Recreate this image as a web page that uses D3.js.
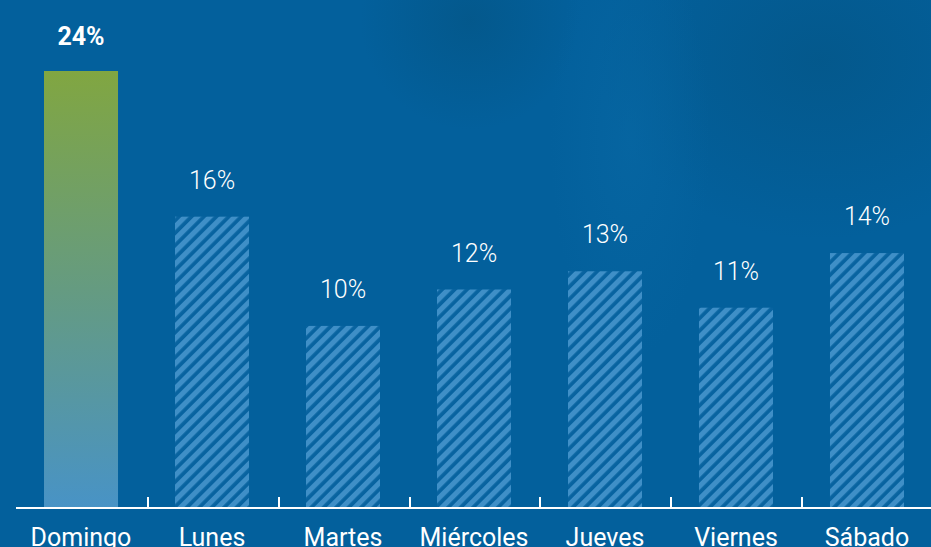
<!DOCTYPE html>
<html>
<head>
<meta charset="utf-8">
<script src="https://cdn.jsdelivr.net/npm/d3@7"></script>
<style>
html,body{margin:0;padding:0;background:#03609c;overflow:hidden;}
svg{display:block;}
</style>
</head>
<body>
<svg id="chart" width="931" height="547"></svg>
<script>
const days = ["Domingo","Lunes","Martes","Miércoles","Jueves","Viernes","Sábado"];
const values = [24,16,10,12,13,11,14];
const valueLabels = ["24%","16%","10%","12%","13%","11%","14%"];
const highlight = ["Domingo"];

const W = 931, H = 547;
const svg = d3.select("#chart");
const defs = svg.append("defs");

// background
const bg = defs.append("radialGradient").attr("id","bgDark").attr("cx","50%").attr("cy","50%").attr("r","50%");
bg.append("stop").attr("offset","0%").attr("stop-color","#04527f").attr("stop-opacity",0.55);
bg.append("stop").attr("offset","100%").attr("stop-color","#04527f").attr("stop-opacity",0);
const bgL = defs.append("radialGradient").attr("id","bgLight").attr("cx","50%").attr("cy","50%").attr("r","50%");
bgL.append("stop").attr("offset","0%").attr("stop-color","#0868a4").attr("stop-opacity",0.6);
bgL.append("stop").attr("offset","100%").attr("stop-color","#0868a4").attr("stop-opacity",0);

svg.append("rect").attr("width",W).attr("height",H).attr("fill","#03609c");
svg.append("ellipse").attr("cx",820).attr("cy",60).attr("rx",220).attr("ry",180).attr("fill","url(#bgDark)");
svg.append("ellipse").attr("cx",470).attr("cy",20).attr("rx",110).attr("ry",110).attr("fill","url(#bgDark)");
svg.append("ellipse").attr("cx",630).attr("cy",140).attr("rx",80).attr("ry",220).attr("fill","url(#bgLight)");

// gradient for highlighted bar
const g = defs.append("linearGradient").attr("id","hiGrad")
  .attr("gradientUnits","objectBoundingBox").attr("x1",0).attr("y1",0).attr("x2",0).attr("y2",1);
g.append("stop").attr("offset","0%").attr("stop-color","#81a641");
g.append("stop").attr("offset","50%").attr("stop-color","#659b81");
g.append("stop").attr("offset","100%").attr("stop-color","#4893c6");

// stripe pattern
const P = 8.8;
const pat = defs.append("pattern").attr("id","stripes")
  .attr("patternUnits","userSpaceOnUse").attr("width",P).attr("height",P)
  .attr("patternTransform","rotate(45)");
pat.append("rect").attr("width",P).attr("height",P).attr("fill","#0863a0");
pat.append("rect").attr("x",0).attr("width",P*0.58).attr("height",P).attr("fill","#3f8fc7");

const x = d3.scaleBand().domain(days).range([44, 904]).paddingInner(0.435).paddingOuter(0);
const y = d3.scaleLinear().domain([0,24]).range([508,71]);

const data = days.map((d,i)=>({day:d, v:values[i], label:valueLabels[i]}));

svg.append("g").selectAll("rect").data(data).join("rect")
  .attr("x", d=>x(d.day)).attr("width", x.bandwidth())
  .attr("y", d=>y(d.v)).attr("height", d=>y(0)-y(d.v))
  .attr("fill", d=> highlight.includes(d.day) ? "url(#hiGrad)" : "url(#stripes)");

// axis line
svg.append("line").attr("x1",16).attr("x2",W).attr("y1",y(0)).attr("y2",y(0))
  .attr("stroke","#ffffff").attr("stroke-width",2);
// ticks between categories
const gap = x.step()*x.paddingInner();
svg.append("g").selectAll("line").data(days.slice(1)).join("line")
  .attr("x1", d=>Math.round(x(d)-gap/2)+1).attr("x2", d=>Math.round(x(d)-gap/2)+1)
  .attr("y1", y(0)-11).attr("y2", y(0))
  .attr("stroke","#ffffff").attr("stroke-width",2);

// value labels
svg.append("g").selectAll("text").data(data).join("text")
  .attr("x", d=>x(d.day)+x.bandwidth()/2)
  .attr("y", d=>y(d.v) - (highlight.includes(d.day) ? 26 : 28))
  .attr("text-anchor","middle")
  .attr("font-family","Roboto, 'DejaVu Sans', sans-serif")
  .attr("font-size",25)
  .attr("font-weight", d=> highlight.includes(d.day) ? 700 : 300)
  .attr("fill","#ffffff")
  .text(d=>d.label);

// category labels
svg.append("g").selectAll("text").data(days).join("text")
  .attr("x", d=>x(d)+x.bandwidth()/2)
  .attr("y", 546)
  .attr("text-anchor","middle")
  .attr("font-family","Roboto, 'DejaVu Sans', sans-serif")
  .attr("font-size",25)
  .attr("font-weight",400)
  .attr("fill","#ffffff")
  .text(d=>d);
</script>
</body>
</html>
